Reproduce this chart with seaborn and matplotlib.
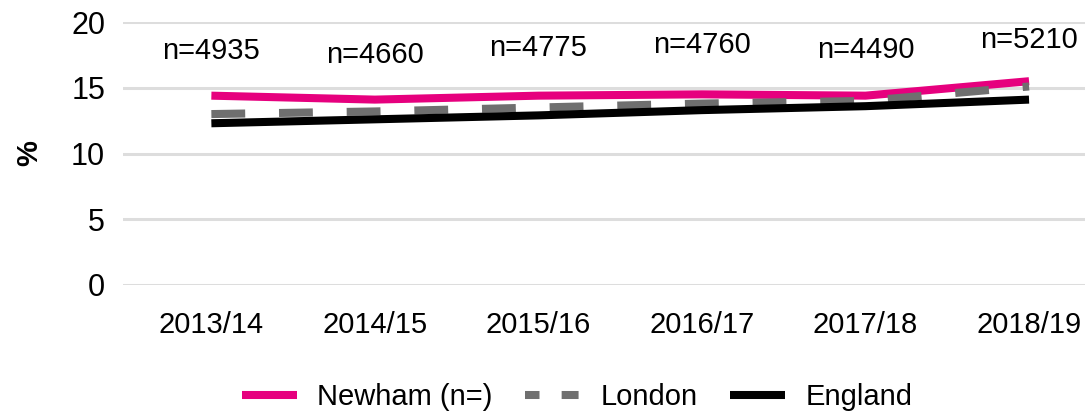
import numpy as np
import pandas as pd
import matplotlib
matplotlib.use('Agg')
import matplotlib.pyplot as plt
from matplotlib.lines import Line2D
import seaborn as sns

years = ['2013/14', '2014/15', '2015/16', '2016/17', '2017/18', '2018/19']
newham = [14.4, 14.1, 14.4, 14.5, 14.4, 15.5]
london = [13.0, 13.2, 13.5, 13.8, 14.0, 15.1]
england = [12.3, 12.6, 12.9, 13.3, 13.6, 14.1]
n_labels = ['n=4935', 'n=4660', 'n=4775', 'n=4760', 'n=4490', 'n=5210']
label_y = [17.8, 17.5, 18.0, 18.25, 17.9, 18.6]

sns.set_style('white')
plt.rcParams['font.family'] = ['Liberation Sans', 'DejaVu Sans']
plt.rcParams['text.color'] = 'black'
plt.rcParams['xtick.color'] = 'black'
plt.rcParams['ytick.color'] = 'black'
plt.rcParams['axes.labelcolor'] = 'black'

fig = plt.figure(figsize=(10.89, 4.16), dpi=100)
ax = fig.add_axes([0.113, 0.315, 0.883, 0.632])

xs = np.arange(len(years))
df = pd.DataFrame({'x': xs, 'Newham': newham, 'London': london, 'England': england})

sns.lineplot(data=df, x='x', y='Newham', ax=ax, color='#E6007E', lw=5.8,
             label='Newham (n=)', solid_capstyle='butt')
sns.lineplot(data=df, x='x', y='London', ax=ax, color='#6F6F6F', lw=5.8,
             label='London', dashes=False)
ax.lines[-1].set_linestyle((0, (4.2, 4.2)))
ax.lines[-1].set_dash_capstyle('butt')
sns.lineplot(data=df, x='x', y='England', ax=ax, color='black', lw=5.8,
             label='England', solid_capstyle='butt')

for i, (lab, yy) in enumerate(zip(n_labels, label_y)):
    ax.text(i, yy, lab, ha='center', va='center', fontsize=21)

ax.set_ylim(0, 20)
ax.set_yticks([0, 5, 10, 15, 20])
ax.set_xlim(-0.54, 5.34)
ax.set_xticks(xs)
ax.set_xticklabels(years)
ax.tick_params(axis='y', labelsize=22, length=0, pad=13)
ax.tick_params(axis='x', labelsize=21, length=0, pad=19)
ax.yaxis.grid(True, color='#DDDDDD', lw=2.2)
ax.set_axisbelow(True)
for s in ax.spines.values():
    s.set_visible(False)
ax.set_xlabel('')
ax.set_ylabel('%', fontsize=21, fontweight='bold', labelpad=20)

handles, labels = ax.get_legend_handles_labels()
ax.get_legend().remove()
# London legend key: two short squares like the original
handles[1] = Line2D([], [], color='#6F6F6F', lw=5.8,
                    linestyle=(0.3, (2.1, 2.75)), dash_capstyle='butt')
fig.legend(handles, labels, loc='center', bbox_to_anchor=(0.53, 0.045), ncol=3,
           frameon=False, fontsize=21, handlelength=1.9, columnspacing=1.1,
           handletextpad=0.7)

fig.savefig('out.png', dpi=100)
